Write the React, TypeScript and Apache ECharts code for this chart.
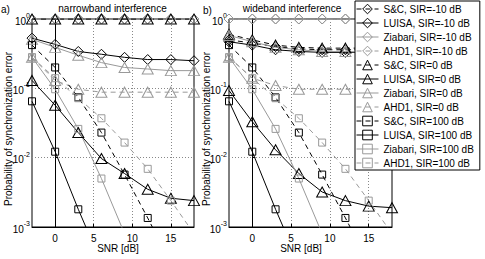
import React, { useEffect, useRef } from 'react';
import * as echarts from 'echarts';

// ---- data ----
const SNR = [-3, 0, 3, 6, 9, 12, 15, 18];
const X_TICKS = [0, 5, 10, 15];
const ALGOS = ['S&C', 'LUISA', 'Ziabari', 'AHD1'];
const SIRS = ['-10', '0', '100'];

// a) narrowband interference
const A_SC_M10 = [1, 1, 1, 1, 1, 1, 1, 1];
const A_LUISA_M10 = [0.53, 0.43, 0.34, 0.31, 0.28, 0.26, 0.26, 0.25];
const A_ZIA_M10 = [1, 1, 1, 1, 1, 1, 1, 1];
const A_AHD_M10 = [1, 1, 1, 1, 1, 1, 1, 1];
const A_SC_0 = [1, 1, 1, 1, 1, 1, 1, 1];
const A_LUISA_0 = [0.13, 0.057, 0.023, 0.0097, 0.0059, 0.0035, 0.0026, 0.0024];
const A_ZIA_0 = [0.51, 0.39, 0.3, 0.235, 0.2, 0.19, 0.18, 0.18];
const A_AHD_0 = [0.28, 0.13, 0.097, 0.088, 0.088, 0.088, 0.088, 0.088];

// b) wideband interference
const B_SC_M10 = [0.5, 0.45, 0.4, 0.37, 0.36, 0.36, 0.36, 0.36];
const B_LUISA_M10 = [0.47, 0.42, 0.36, 0.34, 0.33, 0.33, 0.33, 0.33];
const B_ZIA_M10 = [1, 1, 1, 1, 1, 1, 1, 1];
const B_AHD_M10 = [1, 1, 1, 1, 1, 1, 1, 1];
const B_SC_0 = [0.6, 0.5, 0.42, 0.39, 0.38, 0.38, 0.38, 0.38];
const B_LUISA_0 = [0.093, 0.033, 0.013, 0.0059, 0.0032, 0.0024, 0.002, 0.0019];
const B_ZIA_0 = [0.58, 0.47, 0.39, 0.36, 0.34, 0.34, 0.33, 0.33];
const B_AHD_0 = [0.28, 0.14, 0.11, 0.097, 0.097, 0.097, 0.097, 0.097];

// SIR = 100 dB (no interference, same in both panels)
const SC_100 = [0.42, 0.2, 0.074, 0.023, 0.0057, 0.00135, 0.0003];
const LUISA_100 = [0.065, 0.0122, 0.0018, 0.0003];
const ZIA_100 = [0.28, 0.097, 0.026, 0.005, 0.0008];
const AHD_100 = [0.28, 0.14, 0.072, 0.037, 0.0165, 0.0069, 0.0024, 0.0008];

const PANEL_A = [
  [A_SC_M10, A_LUISA_M10, A_ZIA_M10, A_AHD_M10],
  [A_SC_0, A_LUISA_0, A_ZIA_0, A_AHD_0],
  [SC_100, LUISA_100, ZIA_100, AHD_100],
];
const PANEL_B = [
  [B_SC_M10, B_LUISA_M10, B_ZIA_M10, B_AHD_M10],
  [B_SC_0, B_LUISA_0, B_ZIA_0, B_AHD_0],
  [SC_100, LUISA_100, ZIA_100, AHD_100],
];

const FONT = "'Liberation Sans', Arial, Helvetica, sans-serif";
const GRAY = '#999999';
const DASH = [5, 4];

const ALGO_STYLE: Record<string, { color: string; type: any }> = {
  'S&C': { color: '#000', type: DASH },
  LUISA: { color: '#000', type: 'solid' },
  Ziabari: { color: GRAY, type: 'solid' },
  AHD1: { color: GRAY, type: DASH },
};
const SIR_SYMBOL: Record<string, [string, any]> = {
  '-10': ['diamond', 10],
  '0': ['triangle', [11, 10]],
  '100': ['rect', 7],
};

const seriesName = (algo: string, sir: string) => `${algo}, SIR=${sir} dB`;

function buildSeries(panel: number[][][], idx: number) {
  const out: any[] = [];
  SIRS.forEach((sir, si) => {
    ALGOS.forEach((algo, ai) => {
      const vals = panel[si][ai];
      const st = ALGO_STYLE[algo];
      const [sym, size] = SIR_SYMBOL[sir];
      out.push({
        type: 'line',
        name: seriesName(algo, sir),
        xAxisIndex: idx,
        yAxisIndex: idx,
        data: vals.map((v, i) => [SNR[i], v]),
        symbol: sym,
        symbolSize: size,
        showAllSymbol: true,
        clip: true,
        lineStyle: { color: st.color, width: 1, type: st.type },
        itemStyle: { color: 'rgba(0,0,0,0)', borderColor: st.color, borderWidth: 1 },
        emphasis: { disabled: true },
      });
    });
  });
  return out;
}

function xAxis(gridIndex: number) {
  return {
    type: 'value',
    gridIndex,
    min: -3,
    max: 18,
    axisLine: { show: true, lineStyle: { color: '#000', width: 1 } },
    axisTick: { show: true, inside: true, length: 3, customValues: X_TICKS, lineStyle: { color: '#000' } },
    axisLabel: { customValues: X_TICKS, fontSize: 10, color: '#000', fontFamily: FONT, margin: 6 },
    splitLine: { show: true, lineStyle: { color: '#888', type: [1, 2], width: 1 } },
  };
}

function yAxis(gridIndex: number) {
  return {
    type: 'log',
    logBase: 10,
    gridIndex,
    min: 0.001,
    max: 1,
    axisLine: { show: true, lineStyle: { color: '#000', width: 1 } },
    axisTick: { show: true, inside: true, length: 3, lineStyle: { color: '#000' } },
    minorTick: { show: false },
    axisLabel: {
      margin: 2,
      color: '#000',
      fontFamily: FONT,
      formatter: (v: number) => `{b|10}{s|${Math.round(Math.log10(v))}}`,
      rich: {
        b: { fontSize: 10, fontFamily: FONT, color: '#000', lineHeight: 14, verticalAlign: 'bottom' },
        s: { fontSize: 7, fontFamily: FONT, color: '#000', lineHeight: 14, verticalAlign: 'top' },
      },
    },
    splitLine: { show: true, lineStyle: { color: '#888', type: [1, 2], width: 1 } },
  };
}

function txt(text: string, x: number, y: number, rotation = 0, align = 'center') {
  return {
    type: 'text',
    x,
    y,
    rotation,
    z: 10,
    style: {
      text,
      x: 0,
      y: 0,
      fill: '#000',
      font: `10px ${FONT}`,
      align,
      textAlign: align,
      verticalAlign: 'middle',
      textVerticalAlign: 'middle',
    },
  };
}

export default function App() {
  const ref = useRef<HTMLDivElement>(null);
  useEffect(() => {
    if (!ref.current) return;
    const chart = echarts.init(ref.current, null, { renderer: 'svg' });
    const legendNames: string[] = [];
    SIRS.forEach((sir) => ALGOS.forEach((algo) => legendNames.push(seriesName(algo, sir))));
    const option: any = {
      animation: false,
      backgroundColor: '#fff',
      textStyle: { fontFamily: FONT },
      grid: [
        { left: 32, top: 19, width: 162, height: 208, show: true, borderColor: '#000', borderWidth: 1, backgroundColor: 'rgba(0,0,0,0)', outerBoundsMode: 'none', containLabel: false },
        { left: 229, top: 19, width: 163, height: 208, show: true, borderColor: '#000', borderWidth: 1, backgroundColor: 'rgba(0,0,0,0)', outerBoundsMode: 'none', containLabel: false },
      ],
      xAxis: [xAxis(0), xAxis(1)],
      yAxis: [yAxis(0), yAxis(1)],
      legend: {
        data: legendNames,
        orient: 'vertical',
        left: 355,
        top: 1,
        itemWidth: 22,
        itemHeight: 12,
        itemGap: 0,
        padding: [1, 6, 0, 1],
        backgroundColor: '#fff',
        borderColor: '#000',
        borderWidth: 1,
        borderRadius: 0,
        selectedMode: false,
        itemStyle: { borderWidth: 1 },
        lineStyle: { width: 1 },
        textStyle: { fontSize: 10, color: '#000', fontFamily: FONT, lineHeight: 14 },
        z: 20,
      },
      graphic: [
        txt('a)', 1, 9, 0, 'left'),
        txt('narrowband interference', 112.5, 8),
        txt('b)', 203, 10, 0, 'left'),
        txt('wideband interference', 292, 8),
        txt('SNR [dB]', 118, 248),
        txt('SNR [dB]', 301, 248),
        txt('Probability of synchronization error', 8, 129, Math.PI / 2),
        txt('Probability of synchronization error', 206, 129, Math.PI / 2),
      ],
      series: [...buildSeries(PANEL_A, 0), ...buildSeries(PANEL_B, 1)],
    };
    chart.setOption(option);
    return () => chart.dispose();
  }, []);
  return (
    <div
      ref={ref}
      style={{ position: 'absolute', left: 0, top: 0, width: 485, height: 259, background: '#fff' }}
    />
  );
}
